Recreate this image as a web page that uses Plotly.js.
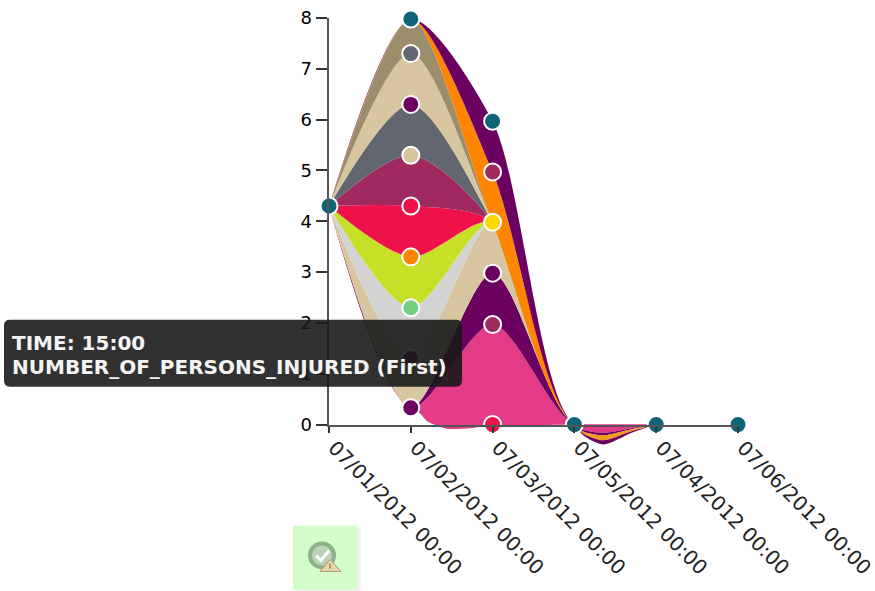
<!DOCTYPE html>
<html>
<head>
<meta charset="utf-8">
<script src="https://cdn.plot.ly/plotly-3.0.1.min.js"></script>
<style>html,body{margin:0;padding:0;background:#fff}#chart{width:875px;height:591px}</style>
</head>
<body>
<div id="chart"></div>
<script>
const categories = ["07/01/2012 00:00","07/02/2012 00:00","07/03/2012 00:00","07/05/2012 00:00","07/04/2012 00:00","07/06/2012 00:00"];
const yTicks = [0,1,2,3,4,5,6,7,8];

const baseOffset = [4.3,0.33,0,0,0,0];
const pinkBand   = [0,0,1.97,0,0,0];
const purpleBand = [0,0,1.01,0,0,0];
const tanBand    = [0,0.97,1.0,0,0,0];
const grayBand   = [0,1,0,0,0,0];
const limeBand   = [0,1,0,0,0,0];
const redBand    = [0,1,0,0,0,0];
const crimsonBand= [0,1,0,0,0,0];
const slateBand  = [0,1,0,0,0,0];
const sandBand   = [0,1,0,0,0,0];
const khakiBand  = [0,0.68,0,0,0,0];
const orangeBand = [0,0,0.99,0,0,0];
const topBand    = [0,0,1.0,0,0,0];

// small undershoots
const lobeX      = [1,1.09,1.2,1.44,1.76,2];
const lobeY      = [0.33,0.26,0.065,-0.08,-0.065,0];
const dipX       = [3,3.1,3.35,3.7,4];
const dipPink    = [0,-0.10,-0.16,-0.07,0];
const dipPurple  = [0,-0.03,-0.05,-0.02,0];
const dipOrange  = [0,-0.04,-0.10,-0.04,0];
const dipOuter   = [0,-0.03,-0.08,-0.03,0];

const TEAL="#0f6478", PURPLE="#6b0060", RED="#ef1149", CRIM="#a0295f", TAN="#d8c6a0",
      SLATE="#62666e", YEL="#ffd800", GRN="#72cf80", ORG="#ff8500", PINK="#e43b87", N=null;

const layers = [
 {v:baseOffset, fill:"rgba(0,0,0,0)", m:[N,PURPLE,RED,N,N,N]},
 {v:pinkBand,   fill:PINK,      m:[N,N,CRIM,N,N,N]},
 {v:purpleBand, fill:PURPLE,    m:[N,N,PURPLE,N,N,N]},
 {v:tanBand,    fill:TAN,       m:[N,PURPLE,YEL,N,N,N]},
 {v:grayBand,   fill:"#d3d3d3", m:[N,GRN,N,N,N,N]},
 {v:limeBand,   fill:"#c8df28", m:[N,ORG,N,N,N,N]},
 {v:redBand,    fill:RED,       m:[N,RED,N,N,N,N]},
 {v:crimsonBand,fill:CRIM,      m:[N,TAN,N,N,N,N]},
 {v:slateBand,  fill:SLATE,     m:[N,PURPLE,N,N,N,N]},
 {v:sandBand,   fill:TAN,       m:[N,SLATE,N,N,N,N]},
 {v:khakiBand,  fill:"#9c8d6c", m:[N,N,N,N,N,N]},
 {v:orangeBand, fill:ORG,       m:[N,N,CRIM,N,N,N]},
 {v:topBand,    fill:PURPLE,    m:[TEAL,TEAL,TEAL,TEAL,TEAL,TEAL]}
];
const xPos = categories.map((_,i)=>i);
const SMOOTH = 0.8;

const traces = layers.map(l => ({
  type:"scatter", x:xPos, y:l.v, stackgroup:"one", mode:"lines",
  line:{shape:"spline", smoothing:SMOOTH, width:0, color:"rgba(0,0,0,0)"},
  fillcolor:l.fill, hoverinfo:"skip"
}));

traces.push({type:"scatter",x:lobeX,y:lobeY,mode:"lines",fill:"toself",fillcolor:PINK,
  line:{shape:"spline",smoothing:0.6,width:0,color:"rgba(0,0,0,0)"},hoverinfo:"skip"});

[[dipPink,PINK],[dipPurple,PURPLE],[dipOrange,"#f09a20"],[dipOuter,PURPLE]].forEach(([v,c])=>{
  traces.push({type:"scatter",x:dipX,y:v,stackgroup:"dip",mode:"lines",fillcolor:c,
    line:{shape:"spline",smoothing:0.8,width:0,color:"rgba(0,0,0,0)"},hoverinfo:"skip"});
});

const mx=[],my=[],mc=[];
const totals=categories.map(()=>0);
layers.forEach(l=>{
  l.v.forEach((val,i)=>{
    totals[i]+=val;
    if(l.m[i]){mx.push(i);my.push(totals[i]);mc.push(l.m[i]);}
  });
});
// the markers sit on the visible axes, so they draw over the axis lines
traces.push({type:"scatter",x:mx,y:my,xaxis:"x2",yaxis:"y2",mode:"markers",cliponaxis:false,hoverinfo:"skip",
  marker:{size:17,color:mc,opacity:1,line:{color:"#ffffff",width:2}}});

const L=329,R=738,T=18,ZERO=425;
const unit=(ZERO-T)/8, below=0.5, B=ZERO+below*unit;
const px=x=>(x-L)/(R-L), py=y=>(B-y)/(B-T);
const P=(x,y)=>px(x)+","+py(y);
function roundRect(x0,y0,x1,y1,r){
  return `M${P(x0+r,y0)} L${P(x1-r,y0)} Q${P(x1,y0)} ${P(x1,y0+r)} L${P(x1,y1-r)} Q${P(x1,y1)} ${P(x1-r,y1)} L${P(x0+r,y1)} Q${P(x0,y1)} ${P(x0,y1-r)} L${P(x0,y0+r)} Q${P(x0,y0)} ${P(x0+r,y0)} Z`;
}
const box=(x0,y0,x1,y1,fill,type)=>({type:type||"rect",xref:"paper",yref:"paper",x0:px(x0),x1:px(x1),y0:py(y0),y1:py(y1),fillcolor:fill,line:{width:0},layer:"above"});
const path=(d,fill,line)=>({type:"path",xref:"paper",yref:"paper",path:d,fillcolor:fill,line:line||{width:0},layer:"above"});

const shapes=[
 path(roundRect(4,320,462,387,6),"rgba(24,24,24,0.89)"),
 box(296,529,361,594,"rgba(0,0,0,0.05)"),
 box(293,526,357,590,"#d3fdca"),
 box(308,542,336,570,"#8db08d","circle"),
 box(312,546,332,566,"#bcd3b6","circle"),
 path(`M${P(316,556)} L${P(321,561)} L${P(329,551)}`,"rgba(0,0,0,0)",{color:"#ffffff",width:3}),
 path(`M${P(330,560)} L${P(341,572)} L${P(320,572)} Z`,"#e8d8a8",{color:"#a89a70",width:1}),
 path(`M${P(330,564)} L${P(330,569)}`,"rgba(0,0,0,0)",{color:"#a08a50",width:1.5})
];
const tip=(y,t)=>({xref:"paper",yref:"paper",x:px(10),y:py(y),xanchor:"left",yanchor:"middle",showarrow:false,
  text:"<b>"+t+"</b>",font:{family:"DejaVu Sans, sans-serif",size:20,color:"#f4f4f4"}});

Plotly.newPlot("chart",traces,{
  width:875,height:591,autosize:false,showlegend:false,
  paper_bgcolor:"#fff",plot_bgcolor:"rgba(0,0,0,0)",
  margin:{l:L,r:875-R,t:T,b:591-B,pad:0},
  font:{family:"DejaVu Sans, sans-serif",size:18,color:"#000"},
  xaxis:{range:[0,5],visible:false,anchor:"y"},
  yaxis:{range:[-below,8],domain:[0,1],visible:false,anchor:"x"},
  xaxis2:{type:"linear",range:[0,5],tickvals:xPos,ticktext:categories,anchor:"y2",
    showgrid:false,zeroline:false,showline:true,linecolor:"#555",linewidth:2.5,
    ticks:"outside",ticklen:6,tickwidth:2,tickcolor:"#333",tickangle:45,ticklabelshift:5,ticklabelstandoff:-5,
    ticklabeloverflow:"allow",
    tickfont:{family:"DejaVu Sans, sans-serif",size:20,color:"#222"},automargin:false},
  yaxis2:{range:[0,8],domain:[below/(8+below),1],anchor:"x2",tickvals:yTicks,showgrid:false,zeroline:false,
    showline:true,linecolor:"#555",linewidth:2.5,
    ticks:"outside",ticklen:11,tickwidth:2,tickcolor:"#333",
    tickfont:{family:"DejaVu Sans, sans-serif",size:18,color:"#000"},automargin:false},
  shapes:shapes,
  annotations:[tip(343,"TIME: 15:00"),tip(367,"NUMBER_OF_PERSONS_INJURED (First)")]
},{displayModeBar:false,staticPlot:true});
</script>
</body>
</html>
